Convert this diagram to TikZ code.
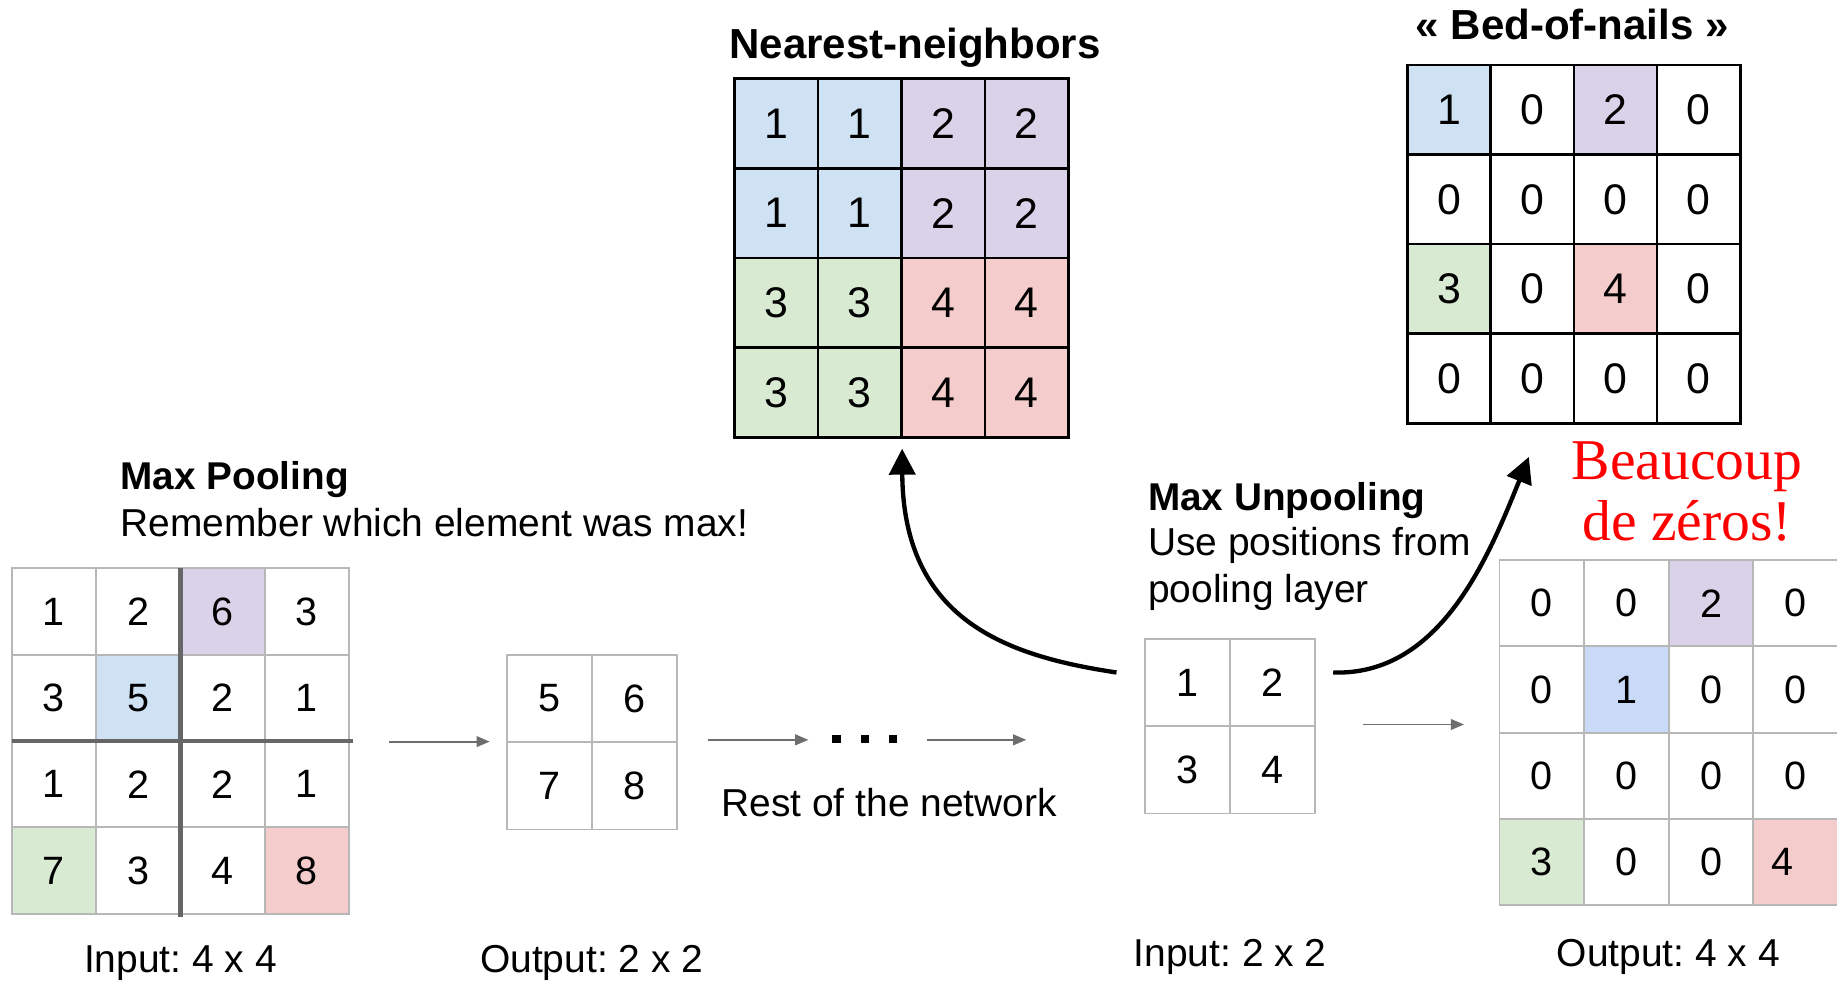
\documentclass[tikz,border=0pt]{standalone}
\usepackage{fontspec}
\newfontfamily\arial{Liberation Sans}
\newfontfamily\timesf{Liberation Serif}
\usetikzlibrary{arrows.meta}
\frenchspacing
\definecolor{cpurple}{HTML}{D9D2E9}
\definecolor{cblue}{HTML}{CFE2F3}
\definecolor{cbluetwo}{HTML}{C9DAF8}
\definecolor{cgreen}{HTML}{D9EAD3}
\definecolor{cred}{HTML}{F4CCCC}
\definecolor{gridgray}{HTML}{B7B7B7}
\definecolor{divgray}{HTML}{666666}
\definecolor{arrowgray}{HTML}{6E6E6E}
\definecolor{zred}{HTML}{FF0000}
\tikzset{
  base/.style={inner sep=0pt, outer sep=0pt},
  gcell/.style={base, draw=gridgray, line width=0.45pt, font=\arial\fontsize{9.6}{11}\selectfont},
  bcell/.style={base, draw=black, line width=0.65pt, font=\arial\fontsize{10.4}{12}\selectfont},
  txt/.style={base, font=\arial\fontsize{9.45}{11}\selectfont},
  ttl/.style={base, font=\arial\bfseries\fontsize{9.4}{11}\selectfont},
  bigttl/.style={base, font=\arial\bfseries\fontsize{10.2}{12}\selectfont},
  redtxt/.style={base, text=zred, font=\timesf\fontsize{14}{16}\selectfont},
  flow/.style={draw=arrowgray, line width=0.45pt, -{Triangle[length=3.2pt,width=2.6pt]}},
  bigarrow/.style={draw=black, line width=1.05pt, -{Triangle[length=6.3pt,width=6.3pt]}},
  divider/.style={draw=divgray, line width=1pt},
  dotbox/.style={base, fill=black, minimum size=0.07cm},
}
\begin{document}
\begin{tikzpicture}[x=0.01cm, y=-0.01cm]
\fill[white] (0,0) rectangle (1568,838);
\useasboundingbox (0,0) rectangle (1568,838);

% ---------- Max pooling input 4x4 ----------
\foreach \v/\f [count=\i from 0] in {1/white,2/white,6/cpurple,3/white,
  3/white,5/cblue,2/white,1/white,
  1/white,2/white,2/white,1/white,
  7/cgreen,3/white,4/white,8/cred}{
  \pgfmathtruncatemacro\r{floor(\i/4)}
  \pgfmathtruncatemacro\c{mod(\i,4)}
  \node[gcell, fill=\f, minimum width=0.72cm, minimum height=0.7375cm]
    (in\r\c) at ({10+72*\c+36},{485+73.75*\r+36.875}) {\v};
}
\draw[divider] (in01.north east) -- ([yshift=-0.03cm]in31.south east);
\draw[divider] (in10.south west) -- ([xshift=0.03cm]in13.south east);

% ---------- Max pooling output 2x2 ----------
\foreach \v [count=\i from 0] in {5,6,7,8}{
  \pgfmathtruncatemacro\r{floor(\i/2)}
  \pgfmathtruncatemacro\c{mod(\i,2)}
  \node[gcell, fill=white, minimum width=0.723cm, minimum height=0.745cm]
    (po\r\c) at ({433+72.3*\c+36.15},{559+74.5*\r+37.25}) {\v};
}

% ---------- Nearest neighbours 4x4 ----------
\foreach \v/\f [count=\i from 0] in {1/cblue,1/cblue,2/cpurple,2/cpurple,
  1/cblue,1/cblue,2/cpurple,2/cpurple,
  3/cgreen,3/cgreen,4/cred,4/cred,
  3/cgreen,3/cgreen,4/cred,4/cred}{
  \pgfmathtruncatemacro\r{floor(\i/4)}
  \pgfmathtruncatemacro\c{mod(\i,4)}
  \node[bcell, fill=\f, minimum width=0.7125cm, minimum height=0.766cm]
    (nn\r\c) at ({627+71.25*\c+35.625},{67+76.6*\r+38.3}) {\v};
}

% ---------- Bed of nails 4x4 ----------
\foreach \v/\f [count=\i from 0] in {1/cblue,0/white,2/cpurple,0/white,
  0/white,0/white,0/white,0/white,
  3/cgreen,0/white,4/cred,0/white,
  0/white,0/white,0/white,0/white}{
  \pgfmathtruncatemacro\r{floor(\i/4)}
  \pgfmathtruncatemacro\c{mod(\i,4)}
  \node[bcell, fill=\f, minimum width=0.71cm, minimum height=0.7645cm]
    (bn\r\c) at ({1201.5+71*\c+35.5},{55.5+76.45*\r+38.225}) {\v};
}

% ---------- Max unpooling input 2x2 ----------
\foreach \v [count=\i from 0] in {1,2,3,4}{
  \pgfmathtruncatemacro\r{floor(\i/2)}
  \pgfmathtruncatemacro\c{mod(\i,2)}
  \node[gcell, fill=white, minimum width=0.723cm, minimum height=0.743cm]
    (ui\r\c) at ({977.5+72.3*\c+36.15},{545.7+74.3*\r+37.15}) {\v};
}

% ---------- Max unpooling output 4x4 ----------
\foreach \v/\f [count=\i from 0] in {0/white,0/white,2/cpurple,0/white,
  0/white,1/cbluetwo,0/white,0/white,
  0/white,0/white,0/white,0/white,
  3/cgreen,0/white,0/white,{\makebox[0pt][c]{\kern-0.22cm 4}}/cred}{
  \pgfmathtruncatemacro\r{floor(\i/4)}
  \pgfmathtruncatemacro\c{mod(\i,4)}
  \node[gcell, fill=\f, minimum width=0.722cm, minimum height=0.737cm]
    (uo\r\c) at ({1280+72.2*\c+36.1},{478+73.7*\r+36.85}) {\v};
}

% ---------- Texts ----------
\node[bigttl, anchor=base] (nntitle) at (781,50) {Nearest-neighbors};
\node[bigttl, anchor=base] (bntitle) at (1342,34) {« Bed-of-nails »};
\node[ttl, anchor=base west] (mptitle) at (103,418) {Max Pooling};
\node[txt, anchor=base west] (mpsub) at (103,458) {Remember which element was max!};
\node[txt, anchor=base] (inlab) at (154,830) {Input: 4 x 4};
\node[txt, anchor=base] (outlab) at (505,830) {Output: 2 x 2};
\node[txt, anchor=base] (rest) at (759,697) {Rest of the network};
\node[ttl, anchor=base west] (mutitle) at (980,436) {Max Unpooling};
\node[txt, anchor=base west] (musub1) at (980,474) {Use positions from};
\node[txt, anchor=base west] (musub2) at (980,514) {pooling layer};
\node[txt, anchor=base] (in2lab) at (1050,825) {Input: 2 x 2};
\node[txt, anchor=base] (out4lab) at (1424,825) {Output: 4 x 4};
\node[redtxt, anchor=base] (beau) at (1440,409) {Beaucoup};
\node[redtxt, anchor=base] (zeros) at (1440,461.5) {de zéros!};

% ---------- dots ----------
\node[dotbox] (dot1) at (714,631) {};
\node[dotbox] (dot2) at (738.3,631) {};
\node[dotbox] (dot3) at (762.5,631) {};

% ---------- flow arrows ----------
\coordinate (f1s) at (332,633);   \coordinate (f1e) at (418,633);
\coordinate (f2s) at (604,631.5); \coordinate (f2e) at (690,631.5);
\coordinate (f3s) at (791,631.5); \coordinate (f3e) at (876,631.5);
\coordinate (f4s) at (1163.5,618.4); \coordinate (f4e) at (1249.6,618.4);
\draw[flow] (f1s) -- (f1e);
\draw[flow] (f2s) -- (f2e);
\draw[flow] (f3s) -- (f3e);
\draw[flow] (f4s) -- (f4e);

% ---------- curved arrows ----------
\coordinate (aS) at (953,574);  \coordinate (aE) at (770,383);
\coordinate (bS) at (1138,574); \coordinate (bE) at (1305,390);
\draw[bigarrow] (aS) .. controls (860,560) and (771,530) .. (aE);
\draw[bigarrow] (bS) .. controls (1230,577) and (1271,474) .. (bE);
\end{tikzpicture}
\end{document}
